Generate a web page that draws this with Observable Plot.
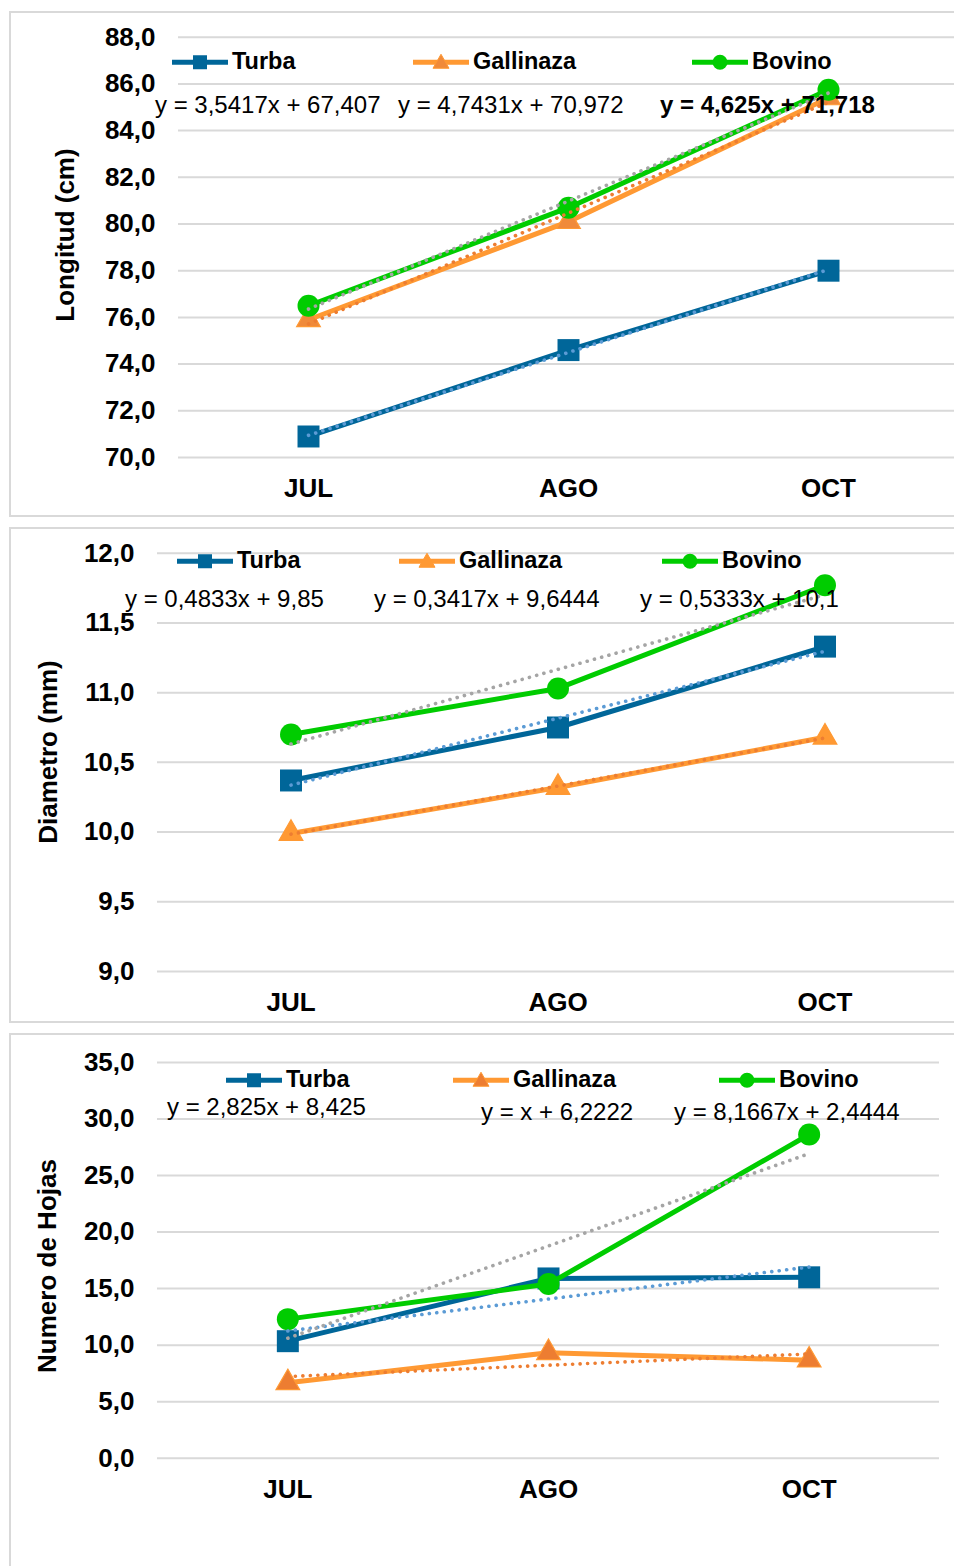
<!DOCTYPE html>
<html>
<head>
<meta charset="utf-8">
<script src="https://cdn.jsdelivr.net/npm/d3@7"></script>
<script src="https://cdn.jsdelivr.net/npm/@observablehq/plot@0.6"></script>
<style>
  html, body { margin: 0; padding: 0; background: #fff; }
  body { width: 954px; height: 1566px; overflow: hidden; position: relative; font-family: "Liberation Sans", Arial, sans-serif; color: #000; }
  .panel { position: absolute; left: 9px; width: 980px; border: 2px solid #d9d9d9; box-sizing: border-box; }
  .chart { position: absolute; left: 0; }
  .ytitle { position: absolute; font-weight: bold; font-size: 26px; white-space: nowrap; transform: translate(-50%, -50%) rotate(-90deg); line-height: 1; }
  .leg { position: absolute; display: flex; align-items: center; transform: translateY(-50%); font-weight: bold; font-size: 23.5px; white-space: nowrap; line-height: 1; }
  .leg svg { display: block; margin-right: 4px; }
  .eq { position: absolute; font-size: 24px; white-space: nowrap; line-height: 24px; }
</style>
</head>
<body>
<script>
// ---------- data ----------
const months = ["JUL", "AGO", "OCT"];
const seriesNames = ["Turba", "Gallinaza", "Bovino"];

const longitudTurba = [70.9, 74.6, 78.0];
const longitudGallinaza = [75.9, 80.1, 85.4];
const longitudBovino = [76.5, 80.7, 85.75];

const diametroTurba = [10.37, 10.75, 11.33];
const diametroGallinaza = [9.99, 10.32, 10.68];
const diametroBovino = [10.7, 11.03, 11.77];

const hojasTurba = [10.35, 15.9, 16.0];
const hojasGallinaza = [6.67, 9.33, 8.67];
const hojasBovino = [12.3, 15.4, 28.63];

const ticksLongitud = [70, 72, 74, 76, 78, 80, 82, 84, 86, 88];
const ticksDiametro = [9.0, 9.5, 10.0, 10.5, 11.0, 11.5, 12.0];
const ticksHojas = [0, 5, 10, 15, 20, 25, 30, 35];

const eqLongitud = ["y = 3,5417x + 67,407", "y = 4,7431x + 70,972", "y = 4,625x + 71,718"];
const eqDiametro = ["y = 0,4833x + 9,85", "y = 0,3417x + 9,6444", "y = 0,5333x + 10,1"];
const eqHojas = ["y = 2,825x + 8,425", "y = x + 6,2222", "y = 8,1667x + 2,4444"];

const titles = ["Longitud (cm)", "Diametro (mm)", "Numero de Hojas"];

// ---------- styles ----------
const lineColors = ["#006699", "#FF9933", "#00CC00"];
const trendColors = ["#5B9BD5", "#ED7D31", "#A5A5A5"];

const fmt = d => d.toFixed(1).replace(".", ",");

const panels = [
  {
    box: [11, 506], top: 12, height: 504, marginTop: 24.7, marginBottom: 59, marginLeft: 178, width: 958,
    domain: [70, 88], ticks: ticksLongitud, values: [longitudTurba, longitudGallinaza, longitudBovino],
    eqs: eqLongitud, eqPos: [[155, 113], [398, 113], [660, 113]], eqBold: [false, false, true],
    legPos: [[172, 62], [413, 62], [692, 62]], title: titles[0], titlePos: [65, 235],
    triFill: "#F08A3A"
  },
  {
    box: [527, 496], top: 528, height: 494, marginTop: 24.7, marginBottom: 51, marginLeft: 157, width: 958,
    domain: [9, 12], ticks: ticksDiametro, values: [diametroTurba, diametroGallinaza, diametroBovino],
    eqs: eqDiametro, eqPos: [[125, 607], [374, 607], [640, 607]], eqBold: [false, false, false],
    legPos: [[177, 561], [399, 561], [662, 561]], title: titles[1], titlePos: [48, 752],
    triFill: "#FF9933"
  },
  {
    box: [1033, 620], top: 1034, height: 532, marginTop: 28, marginBottom: 108.3, marginLeft: 157, width: 939,
    domain: [0, 35], ticks: ticksHojas, values: [hojasTurba, hojasGallinaza, hojasBovino],
    eqs: eqHojas, eqPos: [[167, 1115], [481, 1120], [674, 1120]], eqBold: [false, false, false],
    legPos: [[226, 1080], [453, 1080], [719, 1080]], title: titles[2], titlePos: [47, 1266],
    triFill: "#ED7D31"
  }
];

function swatch(i, triFill) {
  const c = lineColors[i];
  let marker;
  if (i === 0) marker = `<rect x="21" y="4" width="14" height="14" fill="${c}"/>`;
  else if (i === 1) marker = `<path d="M28,3 L36,17 L20,17 Z" fill="${triFill}" stroke="${c}" stroke-width="1"/>`;
  else marker = `<circle cx="28" cy="11" r="7.5" fill="${c}"/>`;
  return `<svg width="56" height="22" viewBox="0 0 56 22"><line x1="0" y1="11" x2="56" y2="11" stroke="${c}" stroke-width="5" stroke-linecap="round"/>${marker}</svg>`;
}

panels.forEach((p) => {
  // frame
  const frame = document.createElement("div");
  frame.className = "panel";
  frame.style.top = p.box[0] + "px";
  frame.style.height = p.box[1] + "px";
  document.body.appendChild(frame);

  const rows = p.values.map((vals, s) => vals.map((v, i) => ({serie: seriesNames[s], x: i + 1, y: v})));

  const marks = [Plot.ruleY(p.ticks, {stroke: "#d9d9d9", strokeWidth: 2})];
  rows.forEach((data, s) => {
    marks.push(Plot.line(data, {x: "x", y: "y", stroke: lineColors[s], strokeWidth: 5, strokeLinejoin: "round", strokeLinecap: "round"}));
    if (s === 0) marks.push(Plot.dot(data, {x: "x", y: "y", symbol: "square", r: 12.4, fill: lineColors[s], stroke: "none"}));
    if (s === 1) marks.push(Plot.dot(data, {x: "x", y: "y", symbol: "triangle", r: 8.8, fill: p.triFill, stroke: lineColors[s], strokeWidth: 1.2}));
    if (s === 2) marks.push(Plot.dot(data, {x: "x", y: "y", symbol: "circle", r: 11, fill: lineColors[s], stroke: "none"}));
  });
  rows.forEach((data, s) => {
    marks.push(Plot.linearRegressionY(data, {x: "x", y: "y", ci: 0, stroke: trendColors[s], strokeWidth: 3.6, strokeDasharray: "0.1 7.4", strokeLinecap: "round"}));
  });

  const chart = Plot.plot({
    width: p.width,
    height: p.height,
    marginTop: p.marginTop,
    marginBottom: p.marginBottom,
    marginLeft: p.marginLeft,
    marginRight: 0,
    style: {fontFamily: "'Liberation Sans', Arial, sans-serif", fontSize: "26px", fontWeight: "bold", color: "#000", background: "transparent", overflow: "visible", maxWidth: "none"},
    x: {type: "linear", domain: [0.5, 3.5], ticks: [1, 2, 3], tickFormat: d => months[d - 1], tickSize: 0, tickPadding: 21, label: null},
    y: {domain: p.domain, ticks: p.ticks, tickFormat: fmt, tickSize: 0, tickPadding: 23, label: null},
    marks
  });
  chart.classList.add("chart");
  chart.style.position = "absolute";
  chart.style.left = "0px";
  chart.style.top = p.top + "px";
  chart.style.maxWidth = "none";
  chart.style.width = p.width + "px";
  chart.style.height = p.height + "px";
  document.body.appendChild(chart);

  // axis title
  const t = document.createElement("div");
  t.className = "ytitle";
  t.textContent = p.title;
  t.style.left = p.titlePos[0] + "px";
  t.style.top = p.titlePos[1] + "px";
  document.body.appendChild(t);

  // legend
  seriesNames.forEach((name, i) => {
    const d = document.createElement("div");
    d.className = "leg";
    d.style.left = p.legPos[i][0] + "px";
    d.style.top = p.legPos[i][1] + "px";
    d.innerHTML = swatch(i, p.triFill) + `<span>${name}</span>`;
    document.body.appendChild(d);
  });

  // trend equations
  p.eqs.forEach((e, i) => {
    const d = document.createElement("div");
    d.className = "eq";
    d.textContent = e;
    d.style.left = p.eqPos[i][0] + "px";
    d.style.top = (p.eqPos[i][1] - 20) + "px";
    if (p.eqBold[i]) d.style.fontWeight = "bold";
    document.body.appendChild(d);
  });
});
</script>
</body>
</html>
